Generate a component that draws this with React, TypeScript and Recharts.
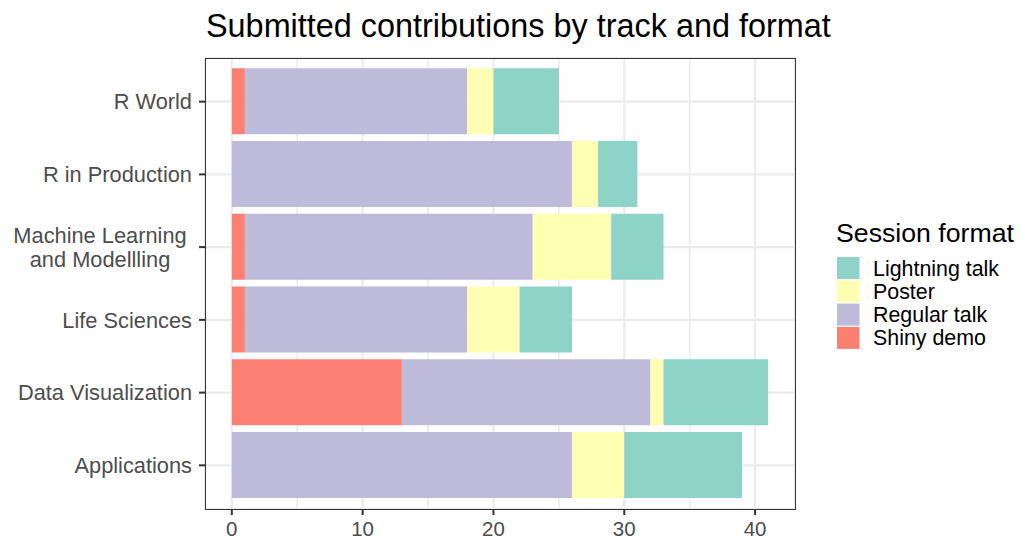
import React from "react"
import { BarChart, Bar, XAxis, YAxis, CartesianGrid } from "recharts"

// bottom to top, same as the factor levels in the plot
const tracks = [
  "Applications",
  "Data Visualization",
  "Life Sciences",
  "Machine Learning\nand Modellling",
  "R in Production",
  "R World",
]
const shinyDemo = [0, 13, 1, 1, 0, 1]
const regularTalk = [26, 19, 17, 22, 26, 17]
const poster = [4, 1, 4, 6, 2, 2]
const lightningTalk = [9, 8, 4, 4, 3, 5]

const xTicks = [0, 10, 20, 30, 40]
const xMinorTicks = [5, 15, 25, 35]

const FONT = '"Liberation Sans", Arial, Helvetica, sans-serif'

// legend is listed top to bottom like ggplot does
const formats = [
  { key: "lightning", label: "Lightning talk", color: "#8DD3C7" },
  { key: "poster", label: "Poster", color: "#FFFFB3" },
  { key: "regular", label: "Regular talk", color: "#BEBADA" },
  { key: "shiny", label: "Shiny demo", color: "#FB8072" },
]

const chartData = tracks.map((track, i) => ({
  track,
  pos: i + 1,
  shiny: shinyDemo[i],
  regular: regularTalk[i],
  poster: poster[i],
  lightning: lightningTalk[i],
}))

function TrackTick({ x, y, payload }: { x?: number; y?: number; payload?: { value: number } }) {
  const label = tracks[(payload?.value ?? 1) - 1] ?? ""
  const lines = label.split("\n")
  const lineHeight = 24
  if (lines.length === 1) {
    return (
      <text x={x} y={(y ?? 0) + 7.8} textAnchor="end" fill="#4D4D4D" fontSize={21.8} fontFamily={FONT}>
        {label}
      </text>
    )
  }
  const first = (y ?? 0) + 7.8 - ((lines.length - 1) * lineHeight) / 2
  return (
    <text textAnchor="middle" fill="#4D4D4D" fontSize={21.8} fontFamily={FONT}>
      {lines.map((line, i) => (
        <tspan key={i} x={100} y={first + i * lineHeight}>
          {line}
        </tspan>
      ))}
    </text>
  )
}

export default function App() {
  return (
    <div style={{ position: "absolute", left: 0, top: 0, width: 1022, height: 540, background: "#fff" }}>
      <BarChart
        width={1022}
        height={540}
        data={chartData}
        layout="vertical"
        margin={{ top: 58, right: 227, bottom: 0, left: 0 }}
        style={{ fontFamily: FONT }}
      >
        <CartesianGrid horizontal={false} verticalValues={xMinorTicks} stroke="#EBEBEB" strokeWidth={1.6} />
        <CartesianGrid stroke="#EBEBEB" strokeWidth={2.2} />
        <XAxis
          type="number"
          domain={[-2.05, 43.05]}
          ticks={xTicks}
          allowDataOverflow
          height={31}
          axisLine={false}
          tickSize={6}
          tickMargin={6}
          tickLine={{ stroke: "#333333", strokeWidth: 2 }}
          tick={{ fill: "#4D4D4D", fontSize: 20.5, fontFamily: FONT }}
        />
        <YAxis
          type="number"
          dataKey="pos"
          domain={[0.4, 6.6]}
          ticks={[1, 2, 3, 4, 5, 6]}
          interval={0}
          reversed
          allowDataOverflow
          width={205}
          axisLine={false}
          tickSize={6}
          tickMargin={7}
          tickLine={{ stroke: "#333333", strokeWidth: 2 }}
          tick={<TrackTick />}
        />
        <Bar dataKey="shiny" stackId="a" fill="#FB8072" barSize={66} isAnimationActive={false} />
        <Bar dataKey="regular" stackId="a" fill="#BEBADA" barSize={66} isAnimationActive={false} />
        <Bar dataKey="poster" stackId="a" fill="#FFFFB3" barSize={66} isAnimationActive={false} />
        <Bar dataKey="lightning" stackId="a" fill="#8DD3C7" barSize={66} isAnimationActive={false} />
      </BarChart>

      {/* panel border */}
      <div
        style={{
          position: "absolute",
          left: 204.5,
          top: 57.5,
          width: 591,
          height: 452,
          border: "1.5px solid #333333",
          boxSizing: "border-box",
          pointerEvents: "none",
        }}
      />

      <svg
        width={1022}
        height={540}
        style={{ position: "absolute", left: 0, top: 0, pointerEvents: "none" }}
        fontFamily={FONT}
      >
        <text x={206} y={37} fontSize={32.4} fill="#000">
          Submitted contributions by track and format
        </text>
        <text x={836} y={241.5} fontSize={26.7} fill="#000">
          Session format
        </text>
        {formats.map((f, i) => (
          <g key={f.key}>
            <rect x={837} y={257 + i * 23.3} width={22.5} height={22} fill={f.color} />
            <text x={873} y={275.5 + i * 23.3} fontSize={21.4} fill="#000">
              {f.label}
            </text>
          </g>
        ))}
      </svg>
    </div>
  )
}
